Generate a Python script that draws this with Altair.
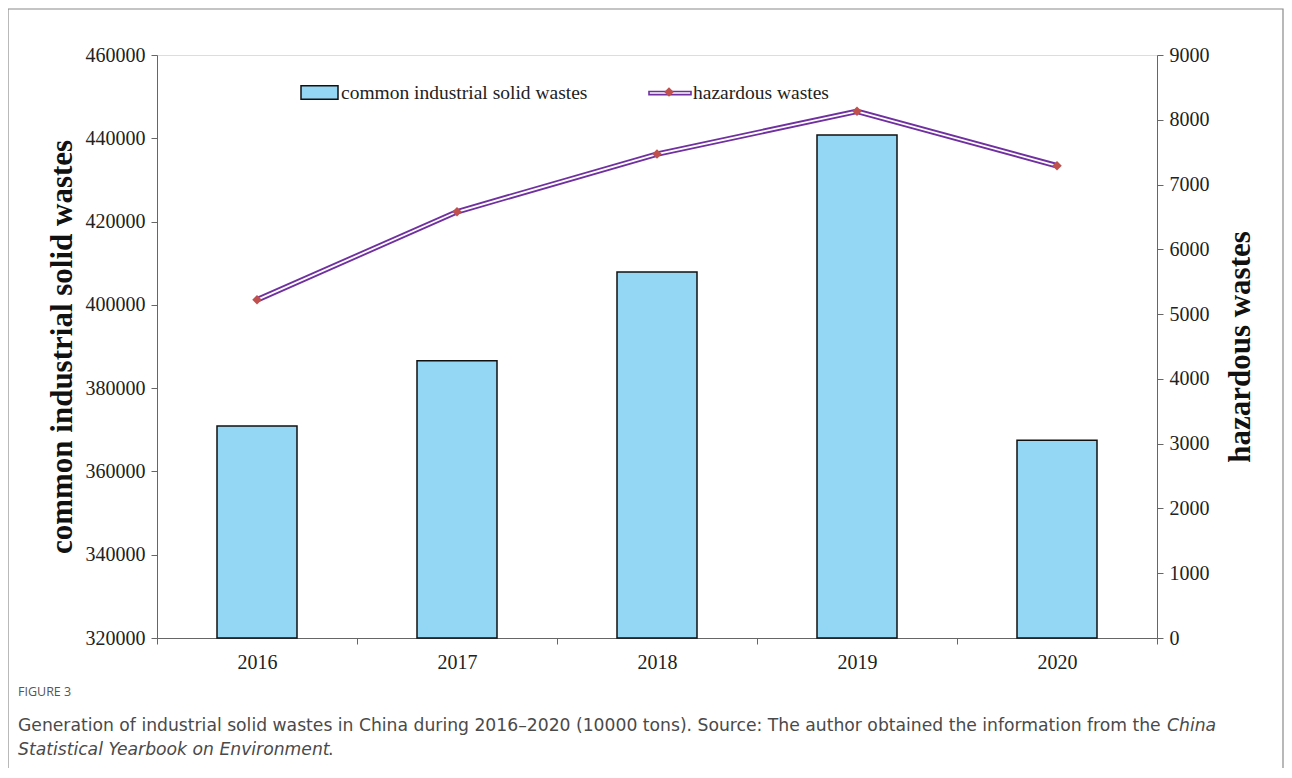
import altair as alt
import pandas as pd

years = ["2016", "2017", "2018", "2019", "2020"]
common = [370900, 386600, 407900, 440800, 367500]
hazardous = [5220, 6580, 7470, 8130, 7290]

bar_name = "common industrial solid wastes"
line_name = "hazardous wastes"

df = pd.DataFrame({
    "year": years,
    "common": common,
    "hazardous": hazardous,
    "bar_label": [bar_name] * len(years),
    "line_label": [line_name] * len(years),
    "marker": ["m"] * len(years),
})

SERIF = "Liberation Serif"
SANS = "DejaVu Sans"
W, H = 1000, 583

x_enc = alt.X(
    "year:N",
    sort=years,
    scale=alt.Scale(paddingInner=0, paddingOuter=0),
    axis=alt.Axis(
        title=None, labelAngle=0, tickBand="extent", labelFont=SERIF,
        labelFontSize=20, labelColor="#222", labelPadding=8, tickSize=6,
        domainColor="#666", tickColor="#666",
    ),
)

left_axis = alt.Axis(
    title="common industrial solid wastes", orient="left",
    values=list(range(320000, 460001, 20000)), format="d",
    labelFont=SERIF, labelFontSize=20, labelColor="#222", labelPadding=6,
    tickSize=6, domainColor="#666", tickColor="#666", grid=False,
    titleFont=SERIF, titleFontSize=31, titleFontWeight="bold", titleColor="#111",
    titleAngle=270, titleX=-95, titleY=H / 2, titleAlign="center", titleBaseline="middle",
)
right_axis = alt.Axis(
    title="hazardous wastes", orient="right",
    values=list(range(0, 9001, 1000)), format="d",
    labelFont=SERIF, labelFontSize=20, labelColor="#222", labelPadding=6,
    tickSize=6, domainColor="#666", tickColor="#666", grid=False,
    titleFont=SERIF, titleFontSize=31, titleFontWeight="bold", titleColor="#111",
    titleAngle=270, titleX=83, titleY=H / 2, titleAlign="center", titleBaseline="middle",
)

bars = alt.Chart(df).mark_bar(
    width={"band": 0.4}, stroke="#111", strokeWidth=1.5
).encode(
    x=x_enc,
    y=alt.Y("common:Q", scale=alt.Scale(domain=[320000, 460000], nice=False, zero=False), axis=left_axis),
    y2=alt.datum(320000),
    fill=alt.Fill(
        "bar_label:N",
        scale=alt.Scale(domain=[bar_name], range=["#93d7f5"]),
        legend=alt.Legend(
            title=None, orient="none", legendX=143, legendY=18, padding=0,
            symbolType="M-1,-0.36H1V0.36H-1Z", symbolSize=1369,
            symbolStrokeColor="#111", symbolStrokeWidth=1.5, symbolOpacity=1,
            labelFont=SERIF, labelFontSize=19.5, labelColor="#222", labelOffset=2,
            labelLimit=500,
        ),
    ),
)

y_right = alt.Y("hazardous:Q", scale=alt.Scale(domain=[0, 9000], nice=False), axis=right_axis)

line_outer = alt.Chart(df).mark_line(strokeWidth=5.5).encode(
    x=alt.X("year:N", sort=years),
    y=y_right,
    stroke=alt.Stroke(
        "line_label:N",
        scale=alt.Scale(domain=[line_name], range=["#7030a0"]),
        legend=alt.Legend(
            title=None, orient="none", legendX=491, legendY=16, padding=0,
            symbolType="M-1,-0.075H1V0.075H-1Z", symbolSize=1764,
            symbolFillColor="white", symbolStrokeWidth=1.6, symbolOpacity=1,
            labelFont=SERIF, labelFontSize=19.5, labelColor="#222", labelOffset=1,
            labelLimit=500,
        ),
    ),
)
line_inner = alt.Chart(df).mark_line(strokeWidth=1.8, color="white").encode(
    x=alt.X("year:N", sort=years),
    y=y_right,
)
points = alt.Chart(df).mark_point(filled=True, size=90, opacity=1).encode(
    x=alt.X("year:N", sort=years),
    y=y_right,
    shape=alt.Shape(
        "marker:N",
        scale=alt.Scale(domain=["m"], range=["diamond"]),
        legend=alt.Legend(
            title=None, orient="none", legendX=507, legendY=32, padding=0,
            symbolFillColor="#c0504d", symbolStrokeWidth=0, symbolSize=90,
            symbolOpacity=1, labelExpr="''",
        ),
    ),
    color=alt.value("#c0504d"),
)

right_layer = alt.layer(line_outer, line_inner, points)
main = alt.layer(bars, right_layer).resolve_scale(y="independent")

one = alt.Data(values=[{"k": 1}])

def txt(s, x, y, size, color="#4a4a4a", style="normal", font=SANS, align="left"):
    return alt.Chart(one).mark_text(
        text=s, font=font, fontSize=size, fontStyle=style, color=color,
        align=align, baseline="alphabetic",
    ).encode(x=alt.value(x), y=alt.value(y))

caption = [
    txt("FIGURE 3", -139, 641, 12.5, color="#555", font="Open Sans"),
    txt("Generation of industrial solid wastes in China during 2016\u20132020 (10000 tons). Source: The author obtained the information from the",
        -139, 676, 17.2),
    txt("China", 1010, 676, 17.2, style="italic"),
    txt("Statistical Yearbook on Environment", -139, 700, 17.2, style="italic"),
    txt(".", 171, 700, 17.2),
]

frame = alt.Chart(one).mark_rect(fill=None, stroke="#8a8a8a", strokeWidth=1.2).encode(
    x=alt.value(-149), x2=alt.value(1126), y=alt.value(-46), y2=alt.value(740)
)

chart = alt.layer(main, frame, *caption).properties(
    width=W, height=H,
    autosize=alt.AutoSizeParams(type="none"),
    padding={"left": 149, "top": 47, "right": 127, "bottom": 130},
).configure_view(stroke=None).configure(background="white")

chart.save("out.html", embed_options={"renderer": "svg", "actions": False})
